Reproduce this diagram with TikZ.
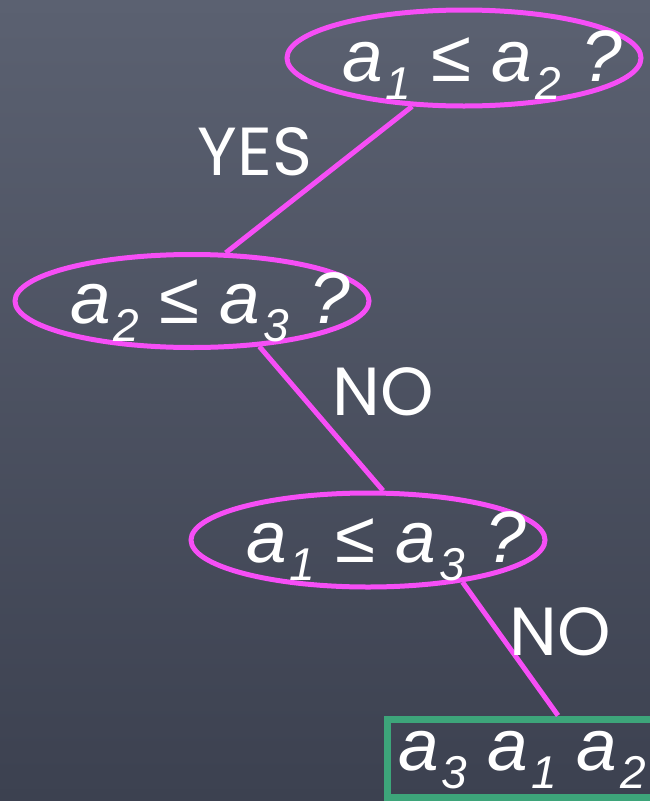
\documentclass[tikz,border=0pt]{standalone}
\usepackage{fontspec}
\setmainfont{Liberation Sans}
\newfontfamily\answerfont{Poppins}
\usetikzlibrary{shapes.geometric,calc}
\definecolor{slatetop}{HTML}{5B6171}
\definecolor{slatebottom}{HTML}{3C4150}
\definecolor{chalkpink}{HTML}{F64EF6}
\definecolor{chalkgreen}{HTML}{3DA57A}
% one element a_i, with its index lowered
\newcommand{\elem}[2]{\textit{#1}\hspace{0.04em}\raisebox{-0.25em}{\fontsize{46}{46}\selectfont\textit{#2}}}

\begin{document}
\begin{tikzpicture}[
  x=1pt, y=-1pt,
  every node/.style={text=white},
  decision/.style={ellipse, draw=chalkpink, line width=5pt, minimum width=354pt, minimum height=96pt, inner sep=0pt},
  cmptext/.style={anchor=base west, inner sep=0pt, font=\fontsize{73}{80}\selectfont},
  result/.style={rectangle, draw=chalkgreen, line width=7pt, minimum width=320pt, minimum height=78pt, anchor=west, inner sep=0pt},
  answer/.style={font=\answerfont\fontsize{68}{80}\selectfont, inner sep=0pt},
  branch/.style={draw=chalkpink, line width=5pt},
]

% ---- chalkboard ----
\clip (0,0) rectangle (650,801);
\shade[top color=slatetop, bottom color=slatebottom] (0,0) rectangle (650,801);

% ---- comparisons ----
\node[decision] (q1) at (464,58) {};
\node[cmptext] (q1text) at ($(q1)+(-122,23)$) {\elem{a}{1} ≤ \elem{a}{2} \textit{?}};

\node[decision, minimum height=93pt] (q2) at (192,301) {};
\node[cmptext] (q2text) at ($(q2)+(-122,22)$) {\elem{a}{2} ≤ \elem{a}{3} \textit{?}};

\node[decision, minimum height=94pt] (q3) at (368,540) {};
\node[cmptext] (q3text) at ($(q3)+(-122,22)$) {\elem{a}{1} ≤ \elem{a}{3} \textit{?}};

% ---- leaf ----
\node[result] (leaf) at (384,758) {};
\node[cmptext] (leaftext) at (398,770) {\elem{a}{3} \elem{a}{1} \elem{a}{2}};

% ---- branches ----
\draw[branch] (q1.223) -- (q2.55);
\draw[branch] (q2.326) -- (q3.73);
\draw[branch] (q3.336) -- (leaf.north west -| 558,0);

% ---- branch labels ----
\node[answer] (yes1) at (255,152) {YES};
\node[answer] (no1)  at (383,392) {NO};
\node[answer] (no2)  at (560,632) {NO};

\end{tikzpicture}
\end{document}
